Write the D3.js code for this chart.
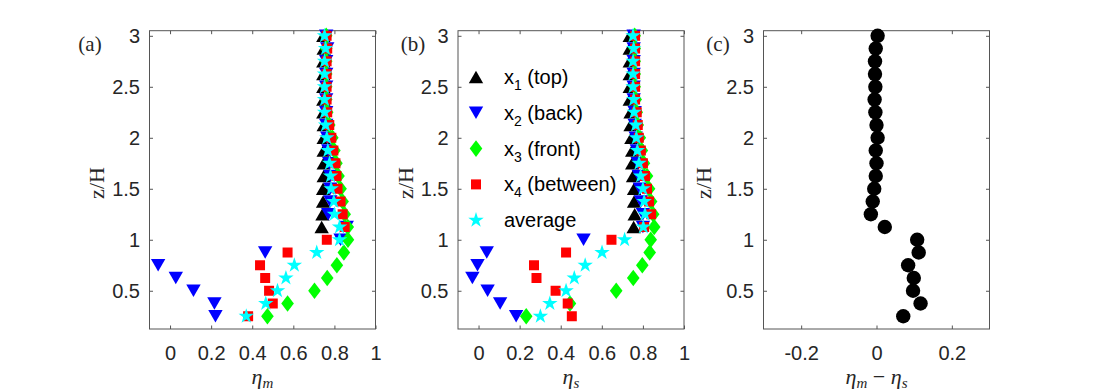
<!DOCTYPE html>
<html>
<head>
<meta charset="utf-8">
<script src="https://cdn.jsdelivr.net/npm/d3@7"></script>
<style>
  body { margin: 0; background: #fff; }
  svg { display: block; }
  .tick text { font-family: "Liberation Sans", Arial, sans-serif; font-size: 20px; fill: #262626; }
</style>
</head>
<body>
<div id="chart"></div>
<script>
// heights z/H shared by every profile
const zLevels = [0.25, 0.375, 0.5, 0.625, 0.75, 0.875, 1.0, 1.125, 1.25, 1.375, 1.5, 1.625,
                 1.75, 1.875, 2.0, 2.125, 2.25, 2.375, 2.5, 2.625, 2.75, 2.875, 3.0];

// panel (a): eta_m
const etaM_x1 = [null, null, null, null, null, null, null, 0.738, 0.742, 0.745, 0.745, 0.748,
                 0.748, 0.748, 0.748, 0.748, 0.746, 0.746, 0.746, 0.746, 0.746, 0.748, 0.746];
const etaM_x2 = [0.221, 0.216, 0.114, 0.028, -0.058, 0.463, 0.83, 0.86, 0.77, 0.78, 0.78, 0.78,
                 0.775, 0.77, 0.765, 0.76, 0.76, 0.76, 0.76, 0.76, 0.76, 0.765, 0.76];
const etaM_x3 = [0.474, 0.572, 0.703, 0.765, 0.812, 0.846, 0.866, 0.865, 0.85, 0.84, 0.83, 0.82,
                 0.81, 0.80, 0.79, 0.775, 0.765, 0.76, 0.76, 0.76, 0.76, 0.76, 0.76];
const etaM_x4 = [0.38, 0.50, 0.482, 0.463, 0.438, 0.572, 0.763, 0.85, 0.84, 0.83, 0.815, 0.81,
                 0.805, 0.795, 0.785, 0.775, 0.765, 0.762, 0.762, 0.762, 0.762, 0.765, 0.762];
const etaM_avg = [0.371, 0.466, 0.523, 0.564, 0.605, 0.714, 0.825, 0.825, 0.80, 0.797, 0.784, 0.781,
                  0.776, 0.768, 0.763, 0.757, 0.752, 0.752, 0.752, 0.752, 0.752, 0.757, 0.752];

// panel (b): eta_s
const etaS_x1 = [null, null, null, null, null, null, null, 0.755, 0.76, 0.757, 0.757, 0.752,
                 0.748, 0.748, 0.744, 0.74, 0.74, 0.736, 0.736, 0.736, 0.736, 0.736, 0.736];
const etaS_x2 = [0.183, 0.105, 0.044, -0.03, -0.005, 0.04, 0.511, 0.80, 0.80, 0.79, 0.785, 0.78,
                 0.775, 0.77, 0.765, 0.76, 0.76, 0.755, 0.755, 0.755, 0.755, 0.755, 0.755];
const etaS_x3 = [0.232, 0.445, 0.67, 0.753, 0.797, 0.833, 0.838, 0.855, 0.85, 0.84, 0.83, 0.82,
                 0.805, 0.795, 0.785, 0.775, 0.77, 0.765, 0.76, 0.76, 0.76, 0.76, 0.76];
const etaS_x4 = [0.454, 0.434, 0.375, 0.282, 0.27, 0.426, 0.647, 0.806, 0.84, 0.83, 0.82, 0.81,
                 0.80, 0.79, 0.78, 0.775, 0.77, 0.762, 0.762, 0.762, 0.762, 0.762, 0.762];
const etaS_avg = [0.301, 0.347, 0.426, 0.466, 0.519, 0.601, 0.711, 0.802, 0.81, 0.806, 0.80, 0.789,
                  0.781, 0.773, 0.768, 0.765, 0.757, 0.755, 0.752, 0.752, 0.752, 0.755, 0.752];

// panel (c): eta_m - eta_s
const etaDiff = [0.071, 0.117, 0.097, 0.099, 0.084, 0.112, 0.108, 0.022, -0.015, -0.01, -0.006, -0.002,
                 0.0, -0.002, 0.003, 0.0, -0.003, -0.005, -0.003, -0.004, -0.004, -0.002, 0.003];

const seriesNames = ["x1", "x2", "x3", "x4", "average"];
const legendLabels = [["x", "1", " (top)"], ["x", "2", " (back)"], ["x", "3", " (front)"],
                      ["x", "4", " (between)"], ["average", "", ""]];
const yTicks = [0.5, 1, 1.5, 2, 2.5, 3];
const etaTicks = [0, 0.2, 0.4, 0.6, 0.8, 1];
const diffTicks = [-0.2, 0, 0.2];

const width = 1094, height = 392;
const plotTop = 30.7, plotBottom = 329, panelW = 226;

const svg = d3.select("#chart").append("svg")
    .attr("width", width)
    .attr("height", height);

const y = d3.scaleLinear().domain([0.125, 3.05]).range([plotBottom, plotTop]);

// marker shapes, MATLAB style
const triUp = { draw(c, s) { const w = 7.2, h = 12.5; c.moveTo(0, -h / 2); c.lineTo(w, h / 2); c.lineTo(-w, h / 2); c.closePath(); } };
const triDown = { draw(c, s) { const w = 7.2, h = 12.5; c.moveTo(0, h / 2); c.lineTo(w, -h / 2); c.lineTo(-w, -h / 2); c.closePath(); } };
const diamond = { draw(c, s) { const w = 6.3, h = 8.3; c.moveTo(0, -h); c.lineTo(w, 0); c.lineTo(0, h); c.lineTo(-w, 0); c.closePath(); } };
const square = { draw(c, s) { const a = 5; c.rect(-a, -a, 2 * a, 2 * a); } };

const style = {
  x1: { type: triUp, size: 0, color: "#000000" },
  x2: { type: triDown, size: 0, color: "#0000ff" },
  x3: { type: diamond, size: 0, color: "#00ff00" },
  x4: { type: square, size: 0, color: "#ff0000" },
  average: { type: d3.symbolStar, size: 74, color: "#00ffff" }
};

function drawAxes(g, x, xTicks) {
  const fmt = d => String(d);
  g.append("g")
    .attr("transform", `translate(0,${plotBottom})`)
    .call(d3.axisBottom(x).tickValues(xTicks).tickFormat(fmt).tickSizeInner(-3.5).tickSizeOuter(0).tickPadding(16.5))
    .call(a => a.select(".domain").remove())
    .call(a => a.selectAll(".tick line").attr("stroke", "#555"));
  g.append("g")
    .attr("transform", `translate(0,${plotTop})`)
    .call(d3.axisTop(x).tickValues(xTicks).tickFormat("").tickSizeInner(-3.5).tickSizeOuter(0))
    .call(a => a.select(".domain").remove())
    .call(a => a.selectAll(".tick line").attr("stroke", "#555"));
  const x0 = x.range()[0], x1 = x.range()[1];
  g.append("g")
    .attr("transform", `translate(${x0},0)`)
    .call(d3.axisLeft(y).tickValues(yTicks).tickFormat(fmt).tickSizeInner(-3.5).tickSizeOuter(0).tickPadding(9.5))
    .call(a => a.select(".domain").remove())
    .call(a => a.selectAll(".tick line").attr("stroke", "#555"));
  g.append("g")
    .attr("transform", `translate(${x1},0)`)
    .call(d3.axisRight(y).tickValues(yTicks).tickFormat("").tickSizeInner(-3.5).tickSizeOuter(0))
    .call(a => a.select(".domain").remove())
    .call(a => a.selectAll(".tick line").attr("stroke", "#555"));
  g.append("rect")
    .attr("x", x0).attr("y", plotTop)
    .attr("width", x1 - x0).attr("height", plotBottom - plotTop)
    .attr("fill", "none").attr("stroke", "#555").attr("stroke-width", 1);
}

function zLabel(xPos) {
  svg.append("text")
    .attr("transform", `translate(${xPos},183) rotate(-90)`)
    .attr("text-anchor", "middle")
    .attr("dominant-baseline", "middle")
    .style("font-family", "'Liberation Serif', 'DejaVu Serif', serif")
    .style("font-size", "22px")
    .style("fill", "#262626")
    .text("z/H");
}

function panelLabel(xPos, txt) {
  svg.append("text")
    .attr("x", xPos).attr("y", 51)
    .attr("text-anchor", "middle")
    .style("font-family", "'Liberation Serif', 'DejaVu Serif', serif")
    .style("font-size", "21px")
    .style("fill", "#262626")
    .text(txt);
}

function etaPanel(left, values, lab, sub) {
  const x = d3.scaleLinear().domain([-0.1, 1]).range([left, left + panelW]);
  const g = svg.append("g");
  drawAxes(g, x, etaTicks);
  seriesNames.forEach((name, i) => {
    const st = style[name];
    const pts = zLevels.map((z, k) => ({ z: z, v: values[i][k] })).filter(d => d.v !== null);
    g.append("g")
      .selectAll("path")
      .data(pts)
      .join("path")
      .attr("transform", d => `translate(${x(d.v)},${y(d.z)})`)
      .attr("d", d3.symbol().type(st.type).size(st.size))
      .attr("fill", st.color);
  });
  // x label
  const t = svg.append("text")
    .attr("x", left + panelW / 2).attr("y", 384)
    .attr("text-anchor", "middle")
    .style("font-family", "'Liberation Serif', 'DejaVu Serif', serif")
    .style("font-style", "italic")
    .style("fill", "#262626");
  t.append("tspan").style("font-size", "22px").text(lab);
  t.append("tspan").style("font-size", "15px").attr("dy", 4).text(sub);
  return x;
}

const xa = etaPanel(149.5, [etaM_x1, etaM_x2, etaM_x3, etaM_x4, etaM_avg], "η", "m");
const xb = etaPanel(458, [etaS_x1, etaS_x2, etaS_x3, etaS_x4, etaS_avg], "η", "s");

// panel (c)
const xc = d3.scaleLinear().domain([-0.3, 0.3]).range([763.5, 763.5 + panelW]);
const gc = svg.append("g");
drawAxes(gc, xc, diffTicks);
gc.append("g")
  .selectAll("circle")
  .data(zLevels.map((z, k) => ({ z: z, v: etaDiff[k] })))
  .join("circle")
  .attr("cx", d => xc(d.v))
  .attr("cy", d => y(d.z))
  .attr("r", 7.2)
  .attr("fill", "#000");

const tc = svg.append("text")
  .attr("x", 763.5 + panelW / 2).attr("y", 384)
  .attr("text-anchor", "middle")
  .style("font-family", "'Liberation Serif', 'DejaVu Serif', serif")
  .style("fill", "#262626");
tc.append("tspan").style("font-style", "italic").style("font-size", "22px").text("η");
tc.append("tspan").style("font-style", "italic").style("font-size", "15px").attr("dy", 4).text("m");
tc.append("tspan").style("font-size", "22px").attr("dy", -4).text(" − ");
tc.append("tspan").style("font-style", "italic").style("font-size", "22px").text("η");
tc.append("tspan").style("font-style", "italic").style("font-size", "15px").attr("dy", 4).text("s");

zLabel(99);
zLabel(408);
zLabel(706);
panelLabel(90, "(a)");
panelLabel(413, "(b)");
panelLabel(718, "(c)");

// legend inside panel (b)
const legend = svg.append("g").attr("transform", "translate(476,77)");
seriesNames.forEach((name, i) => {
  const st = style[name];
  const row = legend.append("g").attr("transform", `translate(0,${i * 35.8})`);
  row.append("path")
    .attr("d", d3.symbol().type(st.type).size(st.size))
    .attr("fill", st.color);
  const lt = row.append("text")
    .attr("x", 28).attr("y", 7)
    .style("font-family", "'Liberation Sans', Arial, sans-serif")
    .style("font-size", "20px")
    .style("fill", "#000");
  const parts = legendLabels[i];
  lt.append("tspan").text(parts[0]);
  if (parts[1]) {
    lt.append("tspan").style("font-size", "14px").attr("dy", 6).text(parts[1]);
    lt.append("tspan").attr("dy", -6).text(parts[2]);
  }
});
</script>
</body>
</html>
